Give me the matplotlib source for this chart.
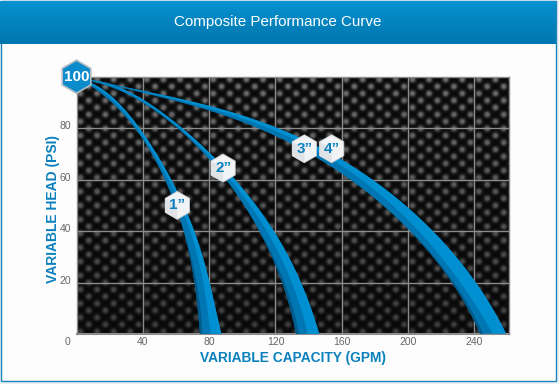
import numpy as np
import matplotlib
matplotlib.use("Agg")
import matplotlib.pyplot as plt
from matplotlib.patches import Polygon, Rectangle
from matplotlib.transforms import Affine2D, ScaledTranslation

plt.rcParams['font.family'] = ['Liberation Sans', 'DejaVu Sans']

title = "Composite Performance Curve"
x_label = "VARIABLE CAPACITY (GPM)"
y_label = "VARIABLE HEAD (PSI)"
x_ticks = [40, 80, 120, 160, 200, 240]
y_ticks = [20, 40, 60, 80]

# Curve edges: (capacity, head)
c1_outer = [(8.1, 97.9), (26.2, 88.6), (40.1, 79.3), (56.4, 59.4), (68, 45.1), (71.9, 39.7), (80.1, 19.5), (87.5, 0)]
c1_split = [(8.1, 97.3), (26.2, 87.4), (39.2, 78.9), (55, 58.7), (66.5, 45.1), (69, 39.7), (76.3, 19.5), (81, 0)]
c1_dark = [(8.1, 96.7), (26.2, 86.2), (38.3, 78.5), (53.4, 57.9), (62.8, 45.1), (65.5, 39.7), (72.3, 19.5), (76, 0)]
c1_inner = [(8.1, 96.7), (26.2, 86.2), (38.3, 78.5), (53.4, 57.9), (62.8, 45.1), (65, 39.7), (71, 19.5), (74.5, 0)]

c2_outer = [(8.1, 98.7), (40.1, 90.9), (66.5, 79.2), (80.5, 69.5), (96.6, 59.2), (111.7, 47), (119.7, 39.7), (134.9, 20.3), (146.4, 0)]
c2_split = [(8.1, 98.5), (40.1, 90.3), (66.5, 78.3), (80.5, 68), (94.5, 58.6), (108, 47), (118.3, 36.5), (129.4, 20.3), (139.5, 0)]
c2_dark = [(8.1, 98.3), (40.1, 89.7), (66.5, 77.3), (80.5, 66.8), (92.6, 57.9), (104.6, 47), (113.4, 36.5), (125.2, 20.3), (134.2, 0)]
c2_inner = [(8.1, 98.3), (40.1, 89.7), (66.5, 77.3), (80.5, 66.8), (92.6, 57.9), (104.6, 47), (112.7, 36.5), (123.8, 20.3), (132.4, 0)]

c3_outer = [(8.1, 99.1), (40.1, 94.8), (80.5, 88.2), (120.9, 80), (158.9, 68.8), (178.8, 59.8), (199.3, 49), (219.2, 36.5), (233.1, 26.8), (243.4, 18.3), (258.9, 0)]
c3_split = [(8.1, 99.1), (40.1, 94.4), (80.5, 87.3), (120.9, 78.8), (158.9, 66), (178.8, 56.7), (199.3, 44.3), (219.2, 30), (235.5, 17.1), (251, 0)]
c3_dark = [(8.1, 99.1), (40.1, 94), (80.5, 86.2), (120.9, 77.3), (158.9, 62.5), (178.8, 53.2), (199.3, 41.2), (215.8, 29.9), (231, 17.1), (245.2, 0)]
c3_inner = [(8.1, 99.1), (40.1, 94), (80.5, 86.2), (120.9, 77.3), (158.9, 62.5), (178.8, 53.2), (199.3, 41.2), (215, 29.9), (229.5, 17.1), (243.4, 0)]

curves = [
    (c1_outer, c1_split, c1_dark, c1_inner),
    (c2_outer, c2_split, c2_dark, c2_inner),
    (c3_outer, c3_split, c3_dark, c3_inner),
]

badge_names = ['1”', '2”', '3”', '4”']
badge_x = [60.8, 88.4, 137.4, 153.9]
badge_y = [50, 64.5, 72, 72]

LIGHT = '#0090d2'
MID = '#0077b2'
DARK = '#005a8c'
BLUE = '#0a80bd'
TICK = '#666666'


def smooth(points):
    # polyfit along the chord length, evens out the reading errors
    pts = np.array(points, dtype=float)
    t = np.r_[0, np.cumsum(np.hypot(*np.diff(pts, axis=0).T))]
    t = t / t[-1]
    u = np.linspace(0, 1, 300)
    return np.polyval(np.polyfit(t, pts[:, 0], 5), u), np.polyval(np.polyfit(t, pts[:, 1], 5), u)


def band(ax, edge_a, edge_b, color, top=101):
    xa, ya = smooth(edge_a)
    xb, yb = smooth(edge_b)
    a = ya < top
    b = yb < top
    ax.fill(np.r_[xa[a], xb[b][::-1]], np.r_[ya[a], yb[b][::-1]], color=color, lw=0, zorder=3)


fig = plt.figure(figsize=(5.59, 3.84), dpi=100, facecolor='#eef1f3')

# page panel and header
bg = fig.add_axes([0, 0, 1, 1])
bg.axis('off')
bg.add_patch(Rectangle((1, 1), 555, 380, fc='#fdfdfd', ec='#1a84bb', lw=1))
header = np.linspace(0, 1, 44)[:, None, None]
header_rgb = np.array([8, 146, 208]) * (1 - header) + np.array([0, 118, 174]) * header
bg.imshow(header_rgb.astype(np.uint8), extent=(0, 556, 44, 1), aspect='auto', zorder=2)
bg.set_xlim(0, 559)
bg.set_ylim(384, 0)
bg.text(278, 22, title, color='white', fontsize=10.9, ha='center', va='center', zorder=3)

# chart area
ax = fig.add_axes([76.5/559, 50/384, 432.8/559, 257.3/384])
ax.set_xlim(0, 261)
ax.set_ylim(0, 100)

# dotted carbon texture, fading out towards the bottom
tex_h, tex_w = 258, 433
yy, xx = np.mgrid[0:tex_h, 0:tex_w]
tex = np.zeros((tex_h, tex_w))
for row in range(-1, 40):
    cy = row * 7.0 + 3
    for col in range(-1, 28):
        cx = col * 16.6 + (row % 2) * 8.3 + 3
        x0, x1 = max(int(cx) - 7, 0), min(int(cx) + 8, tex_w)
        y0, y1 = max(int(cy) - 7, 0), min(int(cy) + 8, tex_h)
        if x0 >= x1 or y0 >= y1:
            continue
        r2 = (xx[y0:y1, x0:x1] - cx)**2 + (yy[y0:y1, x0:x1] - cy)**2
        tex[y0:y1, x0:x1] += np.clip(np.exp(-r2 / 9.0) * 1.25, 0, 1)
fade = np.linspace(100, 52, tex_h)[:, None]
ax.imshow(8 + tex * fade, cmap='gray', vmin=0, vmax=255, extent=(0, 261, 0, 100),
          aspect='auto', zorder=0, interpolation='bilinear')

ax.set_xticks(x_ticks)
ax.set_yticks(y_ticks)
ax.grid(True, color='#8c8c8c', lw=1, zorder=1)
ax.set_axisbelow(True)
ax.tick_params(length=0, labelsize=7.5, labelcolor=TICK)
ax.tick_params(axis='x', pad=2)
ax.tick_params(axis='y', pad=4)
for label in ax.get_yticklabels():
    label.set_transform(label.get_transform() + ScaledTranslation(0, 2/72, fig.dpi_scale_trans))
for name, spine in ax.spines.items():
    spine.set_color('#8c8c8c')
    spine.set_linewidth(1)
ax.spines['bottom'].set_linewidth(1.5)
ax.annotate('0', (0, 0), xytext=(-4.5, -2.5), textcoords='offset points', ha='right', va='top',
            fontsize=7.5, color=TICK, annotation_clip=False)

ax.set_xlabel(x_label, fontsize=9.9, fontweight='bold', color=BLUE)
ax.set_ylabel(y_label, fontsize=10, fontweight='bold', color=BLUE)
ax.yaxis.set_label_coords(-0.037, 0.486)
ax.xaxis.set_label_coords(0.5, -0.066)

# curves, light on the outside, dark sliver only low down on the inner edge
for outer, split, dark, inner in curves:
    band(ax, inner, outer, MID)
    band(ax, split, outer, LIGHT)
    band(ax, inner, dark, DARK, top=38)

# hexagon badges, drawn in pixels around the data position
fig.canvas.draw()
angles = np.radians(np.arange(90, 450, 60))
hex_unit = np.c_[np.cos(angles), np.sin(angles)]


def hex_transform(x, y, r):
    px, py = ax.transData.transform((x, y))
    return Affine2D().scale(r).translate(px, py)


for name, x, y in zip(badge_names, badge_x, badge_y):
    tr = hex_transform(x, y, 14)
    ax.add_patch(Polygon(hex_unit, closed=True, transform=tr, fc='#f1f3f4', ec='#c9ced2', lw=0.6, zorder=5, clip_on=False))
    left_face = [hex_unit[1], hex_unit[2], hex_unit[3], (0, 0)]
    ax.add_patch(Polygon(left_face, closed=True, transform=tr, fc='#dfe3e6', lw=0, zorder=5, clip_on=False))
    ax.text(x, y, name, fontsize=11, fontweight='bold', color=BLUE, ha='center', va='center', zorder=6)

tr = hex_transform(0, 100, 16.5)
ax.add_patch(Polygon(hex_unit, closed=True, transform=tr, fc='#0a8bcc', ec='#b4bcc2', lw=1.2, zorder=5, clip_on=False))
ax.text(0, 100, '100', fontsize=11, fontweight='bold', color='white', ha='center', va='center', zorder=6)

fig.savefig('out.png', dpi=100, facecolor=fig.get_facecolor())
